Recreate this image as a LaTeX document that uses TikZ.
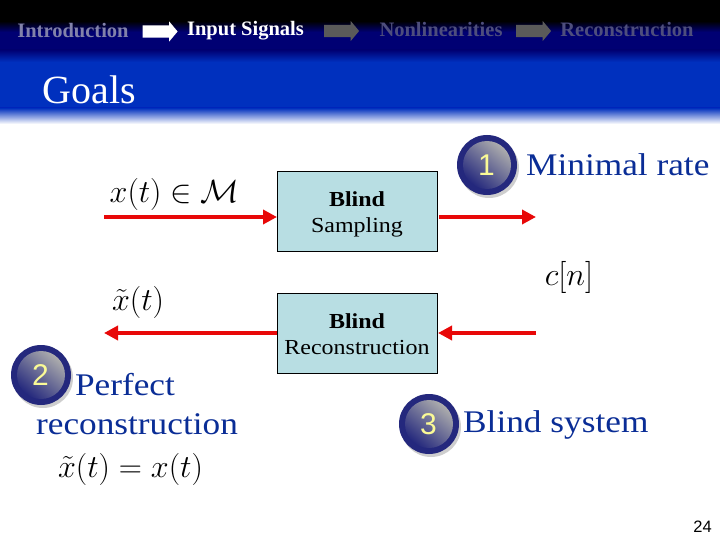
\documentclass[tikz,border=0pt]{standalone}
\usepackage{fontspec}
\setmainfont{Liberation Serif}
\newfontfamily\ballfont{Liberation Sans}
\newfontfamily\widefont[FakeStretch=1.12]{Liberation Serif}
\usetikzlibrary{shapes.arrows,arrows.meta,shadings}
\definecolor{navybar}{RGB}{0,0,115}
\definecolor{bandblue}{RGB}{0,48,190}
\definecolor{boxfill}{RGB}{184,222,227}
\definecolor{sigred}{RGB}{232,8,8}
\definecolor{textblue}{RGB}{10,45,150}
\definecolor{ballnavy}{RGB}{36,40,125}
\definecolor{ballyellow}{RGB}{250,250,150}
\definecolor{crumbdone}{RGB}{130,130,170}
\definecolor{crumbnext}{RGB}{78,78,125}
\definecolor{arrowgrey}{RGB}{90,90,90}
\newcommand{\lowerby}[2]{\raisebox{-#1}[\height][\depth]{#2}}
\tikzset{
  x=1pt,y=-1pt,
  crumb/.style={font=\bfseries\fontsize{20.5}{22}\selectfont,inner sep=0pt,anchor=center},
  crumbarrow/.style={single arrow,draw=none,fill=#1,minimum height=35pt,single arrow head extend=4pt,single arrow tip angle=100,inner sep=0pt,anchor=center},
  blockbox/.style={draw=black,line width=0.8pt,fill=boxfill,minimum width=160pt,anchor=center,align=center,font=\widefont\fontsize{21.4}{26}\selectfont,inner sep=0pt},
  redsig/.style={draw=sigred,line width=3.6pt,-{Triangle[length=14pt,width=14pt]}},
  goaltext/.style={text=textblue,font=\widefont\fontsize{31.5}{39}\selectfont,inner sep=0pt,align=center},
  ballnum/.style={text=ballyellow,font=\ballfont\fontsize{30}{30}\selectfont,inner sep=0pt},
  mathlabel/.style={inner sep=0pt,font=\fontsize{24}{28}\selectfont,scale=1.29}
}
\newcommand{\goalball}[3]{%
  \fill[black!35,opacity=.55] (#1+2,#2+3) circle[radius=30];
  \fill[ballnavy] (#1,#2) circle[radius=30];
  \shade[left color=black!32!white,right color=ballnavy,shading angle=-40] (#1,#2) circle[radius=24];
  \node[ballnum] (ball#3) at (#1-0.5,#2) {#3};
}
\begin{document}
\begin{tikzpicture}
\useasboundingbox (0,0) rectangle (720,540);
\fill[white] (0,0) rectangle (720,540);
\fill[black] (0,0) rectangle (720,23);
\shade[top color=black,bottom color=navybar] (0,21) rectangle (720,32);
\fill[navybar] (0,32) rectangle (720,50);
\shade[top color=navybar,bottom color=bandblue] (0,50) rectangle (720,62);
\fill[bandblue] (0,62) rectangle (720,108);
\shade[top color=bandblue,bottom color=white] (0,108) rectangle (720,124);

\node[crumb,text=crumbdone] (intro) at (73,31) {Introduction};
\node[crumb,text=white] (input) at (245.5,31) {Input Signals};
\node[crumb,text=crumbnext] (nonlin) at (441,29.5) {Nonlinearities};
\node[crumb,text=crumbnext] (recon) at (627,29.5) {Reconstruction};
\node[crumbarrow=white] (a1) at (157.5,31.5) {\rule{0pt}{12pt}};
\node[crumbarrow=arrowgrey] (a2) at (339,31) {\rule{0pt}{12pt}};
\node[crumbarrow=arrowgrey] (a3) at (531,31) {\rule{0pt}{12pt}};

\node[text=white,font=\fontsize{40}{42}\selectfont,inner sep=0pt] (goals) at (89.5,90) {Goals};

\node[blockbox,minimum height=80pt] (samp) at (357,211) {\lowerby{3pt}{\textbf{Blind}}\\\lowerby{3pt}{Sampling}};
\node[blockbox,minimum height=80pt] (rec) at (357,333) {\lowerby{1.5pt}{\textbf{Blind}}\\\lowerby{1.5pt}{Reconstruction}};

\coordinate (inL) at (104,217);
\coordinate (inR) at (277,217);
\coordinate (outL) at (439,217);
\coordinate (outR) at (536,217);
\coordinate (backR) at (536,333);
\coordinate (backL) at (438,333);
\coordinate (endL) at (104,333);
\coordinate (endR) at (277,333);
\draw[redsig] (inL) -- (inR);
\draw[redsig] (outL) -- (outR);
\draw[redsig] (backR) -- (backL);
\draw[redsig] (endR) -- (endL);

\node[mathlabel] (xt) at (174.5,194) {$x(t)\in\mathcal{M}$};
\node[mathlabel] (xtt) at (138,302) {$\tilde{x}(t)$};
\node[mathlabel] (cn) at (569,277) {$c[n]$};
\node[mathlabel] (eq) at (130.5,469) {$\tilde{x}(t)=x(t)$};

\goalball{487}{165}{1}
\goalball{41}{375}{2}
\goalball{429}{424}{3}

\node[goaltext,anchor=west] (g1) at (526,164.5) {Minimal rate};
\node[goaltext] (g2) at (137,404.5) {Perfect\hspace*{24pt}\\reconstruction};
\node[goaltext,anchor=west] (g3) at (463,425) {Blind system};

\node[inner sep=0pt,font=\ballfont\fontsize{16.5}{18}\selectfont] (page) at (702.5,527) {24};
\end{tikzpicture}
\end{document}
